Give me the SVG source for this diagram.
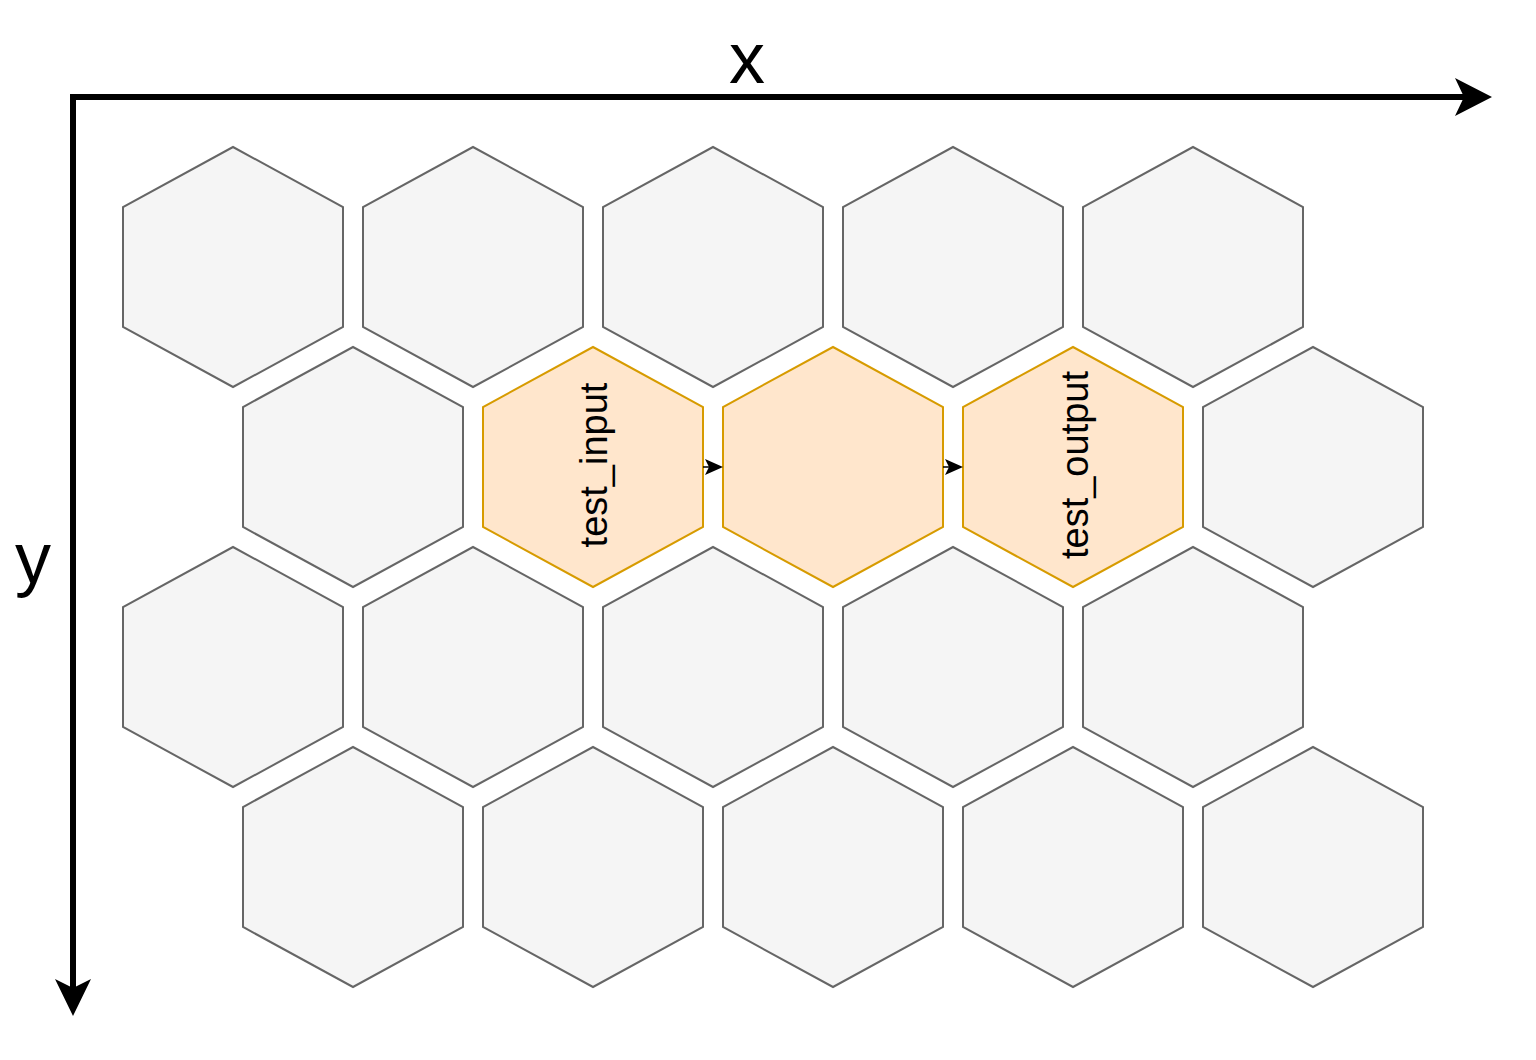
<svg xmlns="http://www.w3.org/2000/svg" width="1536" height="1060" viewBox="0 0 1536 1060">
<style>
.hex{fill:#f5f5f5;stroke:#666666;stroke-width:2}
.hexo{fill:#ffe6cc;stroke:#d79b00;stroke-width:2}
.lbl{font-family:"Liberation Sans",Arial,sans-serif;font-size:38px;fill:#000;text-anchor:middle}
.axl{font-family:"Liberation Sans",Arial,sans-serif;font-size:72px;fill:#000;text-anchor:middle}
.edge{stroke:#000;stroke-width:1.5;fill:none}
</style>
<defs>
<polygon id="h" points="0,-120 110,-60 110,60 0,120 -110,60 -110,-60"/>
</defs>
<rect width="1536" height="1060" fill="#ffffff"/>
<g id="row1">
<use id="h11" href="#h" class="hex" x="233" y="267"/>
<use id="h12" href="#h" class="hex" x="473" y="267"/>
<use id="h13" href="#h" class="hex" x="713" y="267"/>
<use id="h14" href="#h" class="hex" x="953" y="267"/>
<use id="h15" href="#h" class="hex" x="1193" y="267"/>
</g>
<g id="row2">
<use id="h21" href="#h" class="hex" x="353" y="467"/>
<g id="test_input"><use href="#h" class="hexo" x="593" y="467"/><text class="lbl" transform="translate(607,465) rotate(-90)">test_input</text></g>
<g id="middle"><use href="#h" class="hexo" x="833" y="467"/></g>
<g id="test_output"><use href="#h" class="hexo" x="1073" y="467"/><text class="lbl" transform="translate(1088,465) rotate(-90)">test_output</text></g>
<use id="h25" href="#h" class="hex" x="1313" y="467"/>
</g>
<g id="row3">
<use id="h31" href="#h" class="hex" x="233" y="667"/>
<use id="h32" href="#h" class="hex" x="473" y="667"/>
<use id="h33" href="#h" class="hex" x="713" y="667"/>
<use id="h34" href="#h" class="hex" x="953" y="667"/>
<use id="h35" href="#h" class="hex" x="1193" y="667"/>
</g>
<g id="row4">
<use id="h41" href="#h" class="hex" x="353" y="867"/>
<use id="h42" href="#h" class="hex" x="593" y="867"/>
<use id="h43" href="#h" class="hex" x="833" y="867"/>
<use id="h44" href="#h" class="hex" x="1073" y="867"/>
<use id="h45" href="#h" class="hex" x="1313" y="867"/>
</g>
<g id="connectors">
<line class="edge" x1="703" y1="467" x2="712" y2="467"/>
<polygon points="723,467 705,459 709,467 705,475" fill="#000"/>
<line class="edge" x1="943" y1="467" x2="952" y2="467"/>
<polygon points="963,467 945,459 949,467 945,475" fill="#000"/>
</g>
<g id="axes">
<path d="M73,97 H1468" stroke="#000" stroke-width="6" fill="none"/>
<polygon points="1492,97 1455,78 1464,97 1455,116" fill="#000"/>
<path d="M73,94 V990" stroke="#000" stroke-width="6" fill="none"/>
<polygon points="73,1016 55,979 73,988 91,979" fill="#000"/>
<text class="axl" x="747" y="83">x</text>
<text class="axl" x="33" y="583">y</text>
</g>
</svg>
